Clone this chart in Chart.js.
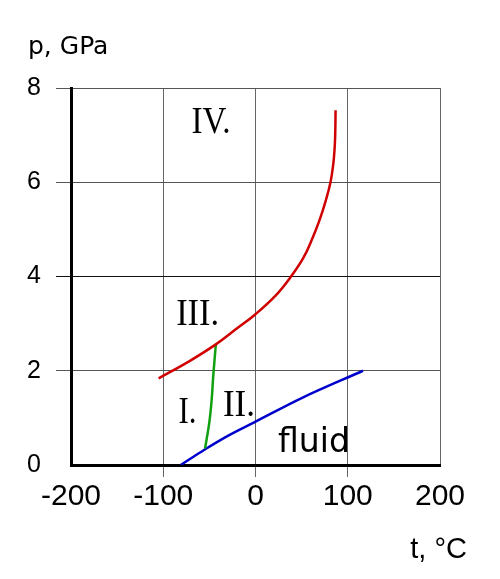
<!DOCTYPE html>
<html>
<head>
<meta charset="utf-8">
<script src="https://cdn.jsdelivr.net/npm/chart.js@4.4.1/dist/chart.umd.min.js"></script>
<style>
  body { margin: 0; background: #fff; }
</style>
</head>
<body>
<canvas id="myChart" width="500" height="579"></canvas>
<script>
    // phase boundaries, t in °C, p in GPa
    const redT   = [-105, -72, -43, -20, 0, 22, 38.5, 52, 61.5, 69.5, 76, 81.3, 84.4, 86, 86.6, 86.8];
    const redP   = [1.84, 2.2, 2.56, 2.9, 3.2, 3.6, 4.0, 4.4, 4.8, 5.2, 5.6, 6.0, 6.4, 6.8, 7.2, 7.53];
    const greenT = [-43, -45.8, -47.5, -50.1, -54.7];
    const greenP = [2.56, 1.89, 1.39, 0.9, 0.35];
    const blueT  = [-81, -55, -30, 0, 50, 116.5];
    const blueP  = [0, 0.33, 0.62, 0.92, 1.42, 2.0];

    const xTicks = [-200, -100, 0, 100, 200];
    const yTicks = [0, 2, 4, 6, 8];

    const toPoints = (ts, ps) => ts.map((t, i) => ({ x: t, y: ps[i] }));

    // region labels drawn at data positions
    const regionLabels = {
      id: "regionLabels",
      afterDatasetsDraw(chart) {
        const { ctx, scales: { x, y } } = chart;
        ctx.save();
        ctx.fillStyle = "black";
        ctx.textAlign = "center";
        ctx.textBaseline = "alphabetic";
        ctx.font = "38px 'Liberation Serif'";
        ctx.fillText("IV.", x.getPixelForValue(-48.2), y.getPixelForValue(7.05), 39);
        ctx.fillText("III.", x.getPixelForValue(-62.7), y.getPixelForValue(2.98), 43);
        ctx.fillText("I.", x.getPixelForValue(-73.7), y.getPixelForValue(0.9), 18);
        ctx.fillText("II.", x.getPixelForValue(-17.9), y.getPixelForValue(1.05), 32);
        ctx.font = "34px 'DejaVu Sans'";
        ctx.fillText("fluid", x.getPixelForValue(63.4), y.getPixelForValue(0.27), 72);

        // axis titles
        ctx.textAlign = "left";
        ctx.font = "25px 'DejaVu Sans'";
        ctx.fillText("p, GPa", 28, 54, 84);
        ctx.textAlign = "right";
        ctx.font = "29px 'Liberation Sans'";
        ctx.fillText("t, °C", 467, 558);
        ctx.restore();
      },
    };

    const lineStyle = (color, mode) => ({
      borderColor: color,
      borderWidth: 2.5,
      pointRadius: 0,
      fill: false,
      tension: 0.4,
      cubicInterpolationMode: mode,
    });

    const config = {
      type: "line",
      data: {
        datasets: [
          { data: toPoints(redT, redP), ...lineStyle("#d00000", "default") },
          { data: toPoints(greenT, greenP), ...lineStyle("#10a010", "default") },
          { data: toPoints(blueT, blueP), ...lineStyle("#0000cc", "monotone") },
        ],
      },
      options: {
        responsive: false,
        animation: false,
        layout: { padding: { top: 88, right: 60, bottom: 0, left: 0 } },
        plugins: {
          legend: { display: false },
          tooltip: { enabled: false },
        },
        scales: {
          x: {
            type: "linear",
            min: -200,
            max: 200,
            afterBuildTicks: (scale) => { scale.ticks = xTicks.map(v => ({ value: v })); },
            afterFit: (scale) => { scale.height = 114; },
            ticks: {
              color: "black",
              padding: 2,
              font: { family: "'Liberation Sans'", size: 30 },
            },
            grid: {
              color: "#666",
              lineWidth: 1,
              tickLength: 12,
              tickColor: (c) => (c.tick && Math.abs(c.tick.value) === 200 ? "rgba(0,0,0,0)" : "#666"),
            },
            border: { color: "black", width: 3 },
          },
          y: {
            min: 0,
            max: 8,
            afterBuildTicks: (scale) => { scale.ticks = yTicks.map(v => ({ value: v })); },
            afterFit: (scale) => { scale.width = 71; },
            ticks: {
              color: "black",
              padding: 15,
              font: { family: "'Liberation Sans'", size: 25 },
            },
            grid: {
              color: (c) => (c.tick && c.tick.value === 4 ? "#111" : "#555"),
              lineWidth: 1,
              tickLength: 15,
              tickColor: (c) => (c.tick && c.tick.value === 0 ? "rgba(0,0,0,0)" : (c.tick && c.tick.value === 4 ? "#111" : "#555")),
            },
            border: { color: "black", width: 3 },
          },
        },
      },
      plugins: [regionLabels],
    };

    const myChart = new Chart(document.getElementById("myChart"), config);
</script>
</body>
</html>
